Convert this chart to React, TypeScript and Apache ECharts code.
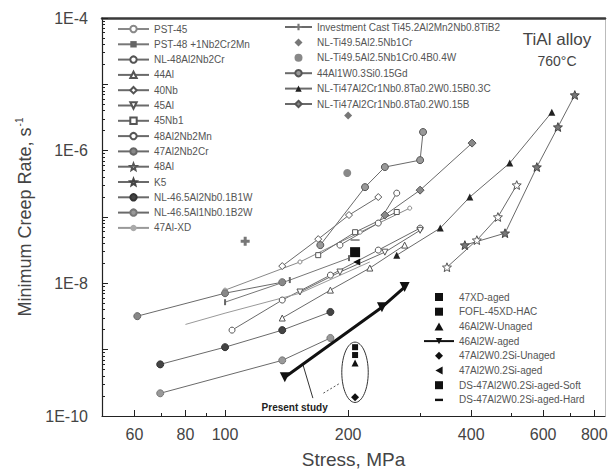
import React, { useEffect, useRef } from "react";
import * as echarts from "echarts";

const FONT = "'Liberation Sans', Arial, Helvetica, sans-serif";

// ---- axis ticks ----
const xTickValues = [60, 80, 100, 200, 400, 600, 800];
const xMinorValues = [50, 70, 90, 300, 500, 700];
const yLabelValues = [1e-10, 1e-8, 1e-6, 1e-4];
const yDecadeExponents = [-10, -9, -8, -7, -6, -5, -4];
const yMinorMantissas = [2, 3, 4, 5, 6, 7, 8, 9];

// ---- literature data: [stress MPa, min creep rate 1/s] ----
const pst45 = [[100, 7.9e-9], [152.5, 2.1e-8], [214, 5.9e-8], [283, 1.36e-7]];
const pst48 = [[100, 5.2e-9], [144, 1.12e-8], [201, 2.4e-8]];
const nl48Al2Nb2Cr = [[104, 1.97e-9], [138, 5.6e-9], [181, 1.33e-8], [237, 3.17e-8], [300, 6.8e-8]];
const al44 = [[138, 3.0e-9], [181, 7.9e-9], [226, 1.7e-8], [275, 3.77e-8]];
const nb40 = [[138, 1.82e-8], [169, 4.64e-8], [201, 1.07e-7], [237, 2.0e-7]];
const al45 = [[152.5, 7.4e-9], [191, 1.48e-8], [246, 2.95e-8], [300, 6.3e-8]];
const nb45 = [[169, 2.66e-8], [208, 5.9e-8], [263, 1.19e-7]];
const al48Nb2Mn = [[191, 3.77e-8], [237, 8.1e-8], [263, 2.29e-7]];
const al47Nb2Cr = [[61, 3.2e-9], [100, 7.1e-9], [138, 1.04e-8]];
const al48 = [[349, 1.75e-8], [413, 4.48e-8], [465, 1.0e-7], [517, 3.03e-7]];
const k5 = [[386, 3.77e-8], [484, 5.7e-8], [579, 5.66e-7], [652, 2.27e-6], [717, 6.9e-6]];
const nl465B1W = [[69.4, 6.0e-10], [100, 1.09e-9], [138, 1.97e-9], [181, 3.7e-9]];
const nl465B2W = [[69.4, 2.2e-10], [138, 6.9e-10], [181, 1.5e-9]];
const misc14 = [[80, 2.4e-9], [100, 3.55e-9], [152.5, 7.1e-9], [226, 2.1e-8]];
const investCast = [[112, 4.3e-8]];
const nlTi495Cr = [[200, 3.4e-6]];
const nlTi495W = [[199, 4.6e-7]];
const al44W = [[171, 3.77e-8], [220, 2.82e-7], [246, 5.66e-7], [300, 7.2e-7], [305, 1.91e-6]];
const nlTi47C = [[263, 2.66e-8], [336, 6.8e-8], [397, 2.0e-7], [497, 6.5e-7], [630, 3.8e-6]];
const nlTi47B = [[246, 1.07e-7], [300, 2.54e-7], [402, 1.3e-6]];

// ---- present study ----
const xdAged = [[208, 1.09e-9]];
const foflXd = [[208, 8.3e-10]];
const w46Unaged = [[208, 6.3e-10]];
const w46Aged = [[140, 3.85e-10], [242, 4.37e-9], [275, 8.8e-9]];
const si47Unaged = [[208, 1.92e-10]];
const si47Aged = [[210, 2.1e-8]];
const dsSoft = [[208, 2.95e-8]];
const dsHard = [[208, 4.5e-8]];

// annotation anchors (data space)
const ellipseBox = [[193, 1.3e-9], [224, 1.6e-10]];
const presentStudyAt = [148, 1.36e-10];
const pointerSolid = [[164, 1.86e-10], [155, 6.0e-10]];
const pointerDashed = [[174, 2.21e-10], [191, 3.12e-10]];

const STAR = "path://M12,1L14.9,8.6L23,9.2L16.8,14.5L18.8,22.5L12,18.1L5.2,22.5L7.2,14.5L1,9.2L9.1,8.6Z";
const CROSS = "path://M4,0H8V4H12V8H8V12H4V8H0V4H4Z";
const BAR = "path://M0,0H10V3H0Z";
// legend icons that keep their aspect
const I_SQUARE = "path://M0,0H10V10H0Z";
const I_TRI = "path://M5,0L10,9H0Z";
const I_TRI_LEFT = "path://M0,5L9,0V10Z";
const I_DIAMOND = "path://M5,0L10,5L5,10L0,5Z";
const I_CIRCLE = "path://M5,0A5,5,0,1,1,5,10A5,5,0,1,1,5,0Z";
const I_BAR = "path://M0,0M10,10M0,3.5H10V6.5H0Z";

type Spec = {
  name: string; data: number[][]; kind: "line" | "scatter";
  symbol: string; size?: number | number[]; fill: string; stroke?: string;
  lineColor?: string; width?: number; rotate?: number; z?: number; icon?: string;
};

const leftSpecs: Spec[] = [
  { name: "PST-45", data: pst45, kind: "line", symbol: "circle", size: 4, fill: "#fff", stroke: "#888", lineColor: "#888" },
  { name: "PST-48 +1Nb2Cr2Mn", data: pst48, kind: "line", symbol: "rect", size: [2, 6], fill: "#666", lineColor: "#777" },
  { name: "NL-48Al2Nb2Cr", data: nl48Al2Nb2Cr, kind: "line", symbol: "circle", size: 6, fill: "#fff", stroke: "#555" },
  { name: "44Al", data: al44, kind: "line", symbol: "triangle", size: 6, fill: "#fff", stroke: "#555" },
  { name: "40Nb", data: nb40, kind: "line", symbol: "diamond", size: 7, fill: "#fff", stroke: "#555" },
  { name: "45Al", data: al45, kind: "line", symbol: "triangle", rotate: 180, size: 6, fill: "#fff", stroke: "#555" },
  { name: "45Nb1", data: nb45, kind: "line", symbol: "rect", size: 5, fill: "#fff", stroke: "#555" },
  { name: "48Al2Nb2Mn", data: al48Nb2Mn, kind: "line", symbol: "circle", size: 6, fill: "#fff", stroke: "#555" },
  { name: "47Al2Nb2Cr", data: al47Nb2Cr, kind: "line", symbol: "circle", size: 7, fill: "#888", stroke: "#666" },
  { name: "48Al", data: al48, kind: "line", symbol: STAR, size: 9, fill: "#fff", stroke: "#555" },
  { name: "K5", data: k5, kind: "line", symbol: STAR, size: 9, fill: "#777", stroke: "#444" },
  { name: "NL-46.5Al2Nb0.1B1W", data: nl465B1W, kind: "line", symbol: "circle", size: 7, fill: "#444", stroke: "#333" },
  { name: "NL-46.5Al1Nb0.1B2W", data: nl465B2W, kind: "line", symbol: "circle", size: 7, fill: "#999", stroke: "#777" },
  { name: "47Al-XD", data: misc14, kind: "line", symbol: "none", fill: "#aaa", lineColor: "#999" },
];

const rightSpecs: Spec[] = [
  { name: "Investment Cast Ti45.2Al2Mn2Nb0.8TiB2", data: investCast, kind: "line", symbol: CROSS, size: 9, fill: "#777" },
  { name: "NL-Ti49.5Al2.5Nb1Cr", data: nlTi495Cr, kind: "scatter", symbol: "diamond", size: 8, fill: "#777", icon: I_DIAMOND },
  { name: "NL-Ti49.5Al2.5Nb1Cr0.4B0.4W", data: nlTi495W, kind: "scatter", symbol: "circle", size: 8, fill: "#888", icon: I_CIRCLE },
  { name: "44Al1W0.3Si0.15Gd", data: al44W, kind: "line", symbol: "circle", size: 7, fill: "#999", stroke: "#555" },
  { name: "NL-Ti47Al2Cr1Nb0.8Ta0.2W0.15B0.3C", data: nlTi47C, kind: "line", symbol: "triangle", size: 7, fill: "#222" },
  { name: "NL-Ti47Al2Cr1Nb0.8Ta0.2W0.15B", data: nlTi47B, kind: "line", symbol: "diamond", size: 8, fill: "#888", stroke: "#555" },
];

const presentSpecs: Spec[] = [
  { name: "47XD-aged", data: xdAged, kind: "scatter", symbol: "rect", size: 6, fill: "#111", z: 5, icon: I_SQUARE },
  { name: "FOFL-45XD-HAC", data: foflXd, kind: "scatter", symbol: "rect", size: 6, fill: "#111", z: 5, icon: I_SQUARE },
  { name: "46Al2W-Unaged", data: w46Unaged, kind: "scatter", symbol: "triangle", size: 7, fill: "#111", z: 5, icon: I_TRI },
  { name: "46Al2W-aged", data: w46Aged, kind: "line", symbol: "triangle", rotate: 180, size: 10, fill: "#111", lineColor: "#111", width: 3, z: 6 },
  { name: "47Al2W0.2Si-Unaged", data: si47Unaged, kind: "scatter", symbol: "diamond", size: 8, fill: "#111", z: 5, icon: I_DIAMOND },
  { name: "47Al2W0.2Si-aged", data: si47Aged, kind: "scatter", symbol: "triangle", rotate: 90, size: 7, fill: "#111", z: 5, icon: I_TRI_LEFT },
  { name: "DS-47Al2W0.2Si-aged-Soft", data: dsSoft, kind: "scatter", symbol: "rect", size: 10, fill: "#111", z: 5, icon: I_SQUARE },
  { name: "DS-47Al2W0.2Si-aged-Hard", data: dsHard, kind: "scatter", symbol: BAR, size: [9, 3], fill: "#111", z: 5, icon: I_BAR },
];

function buildSeries(s: Spec) {
  const common: any = {
    name: s.name,
    data: s.data,
    xAxisIndex: 0,
    yAxisIndex: 0,
    symbol: s.symbol,
    symbolSize: s.size ?? 6,
    symbolRotate: s.rotate ?? 0,
    symbolKeepAspect: true,
    itemStyle: { color: s.fill, borderColor: s.stroke ?? s.fill, borderWidth: s.stroke ? 1 : 0, opacity: 1 },
    z: s.z ?? 2,
    emphasis: { disabled: true },
    silent: true,
  };
  if (s.kind === "line") {
    return {
      ...common,
      type: "line",
      showSymbol: s.symbol !== "none",
      lineStyle: { color: s.lineColor ?? "#6a6a6a", width: s.width ?? 1 },
    };
  }
  return { ...common, type: "scatter" };
}

const allSpecs = [...leftSpecs, ...rightSpecs, ...presentSpecs];
const legendText = { fontSize: 10, color: "#555", fontFamily: FONT };
const legendItems = (specs: Spec[]) =>
  specs.map((s) => (s.icon ? { name: s.name, icon: s.icon, itemStyle: { borderWidth: 0 } } : { name: s.name }));

function yMinorValues() {
  const out: number[] = [];
  for (const e of yDecadeExponents.slice(0, -1)) {
    for (const m of yMinorMantissas) out.push(m * Math.pow(10, e));
  }
  return out;
}

const logX = { type: "log", min: 50, max: 850, logBase: 10 };
const logY = { type: "log", min: 1e-10, max: 1e-4, logBase: 10 };

const option: any = {
  animation: false,
  backgroundColor: "#fff",
  textStyle: { fontFamily: FONT },
  grid: { left: 102, right: 6, top: 18, bottom: 56, containLabel: false, outerBoundsMode: "none" },
  xAxis: [
    {
      ...logX,
      position: "bottom",
      axisLine: { show: true, lineStyle: { color: "#222", width: 1.2 } },
      axisTick: { show: true, inside: true, length: 6, customValues: xTickValues, lineStyle: { color: "#222" } },
      axisLabel: {
        customValues: xTickValues,
        fontSize: 16,
        color: "#444",
        margin: 10,
        fontFamily: FONT,
        formatter: (v: number) => String(Math.round(v)),
      },
      splitLine: { show: false },
      minorTick: { show: false },
      name: "Stress, MPa",
      nameLocation: "middle",
      nameGap: 34,
      nameTextStyle: { fontSize: 19, color: "#444", fontFamily: FONT },
    },
    {
      ...logX,
      position: "bottom",
      axisLine: { show: false },
      axisTick: { show: true, inside: true, length: 3, customValues: xMinorValues, lineStyle: { color: "#222" } },
      axisLabel: { show: false },
      splitLine: { show: false },
    },
    {
      ...logX,
      position: "top",
      axisLine: { show: true, lineStyle: { color: "#3a3a3a", width: 2.5 } },
      axisTick: { show: false },
      axisLabel: { show: false },
      splitLine: { show: false },
    },
  ],
  yAxis: [
    {
      ...logY,
      position: "left",
      axisLine: { show: true, lineStyle: { color: "#222", width: 1.2 } },
      axisTick: {
        show: true,
        inside: true,
        length: 6,
        customValues: yDecadeExponents.map((e) => Math.pow(10, e)),
        lineStyle: { color: "#222" },
      },
      axisLabel: {
        customValues: yLabelValues,
        fontSize: 16,
        color: "#444",
        margin: 14,
        fontFamily: FONT,
        formatter: (v: number) => "1E" + (v > 0 ? Math.round(Math.log10(v)) : Math.round(v)),
      },
      splitLine: { show: false },
      name: "Minimum Creep Rate, s{sup|-1}",
      nameLocation: "middle",
      nameGap: 60,
      nameTextStyle: {
        fontSize: 18,
        color: "#444",
        fontFamily: FONT,
        rich: { sup: { fontSize: 10, color: "#444", verticalAlign: "top", padding: [0, 0, 12, 1] } },
      },
    },
    {
      ...logY,
      position: "left",
      axisLine: { show: false },
      axisTick: { show: true, inside: true, length: 3, customValues: yMinorValues(), lineStyle: { color: "#222" } },
      axisLabel: { show: false },
      splitLine: { show: false },
    },
    {
      ...logY,
      position: "right",
      axisLine: { show: true, lineStyle: { color: "#bbb", width: 1 } },
      axisTick: { show: false },
      axisLabel: { show: false },
      splitLine: { show: false },
    },
  ],
  legend: [
    {
      data: legendItems(leftSpecs),
      orient: "vertical",
      left: 112,
      top: 19,
      itemWidth: 31,
      itemHeight: 8,
      itemGap: 5.3,
      selectedMode: false,
      symbolKeepAspect: true,
      textStyle: legendText,
    },
    {
      data: legendItems(rightSpecs),
      orient: "vertical",
      left: 279,
      top: 17,
      itemWidth: 27,
      itemHeight: 8,
      itemGap: 5.4,
      selectedMode: false,
      symbolKeepAspect: true,
      textStyle: legendText,
    },
    {
      data: legendItems(presentSpecs),
      orient: "vertical",
      left: 418,
      top: 287,
      itemWidth: 30,
      itemHeight: 8,
      itemGap: 4.7,
      selectedMode: false,
      symbolKeepAspect: true,
      textStyle: legendText,
    },
  ],
  series: allSpecs.map(buildSeries),
};

export default function App() {
  const ref = useRef<HTMLDivElement>(null);
  useEffect(() => {
    if (!ref.current) return;
    const chart = echarts.init(ref.current, null, { renderer: "svg" });
    chart.setOption(option);
    const seriesIdx = allSpecs.findIndex((s) => s.name === "46Al2W-aged");
    const px = (p: number[]) => chart.convertToPixel({ seriesIndex: seriesIdx }, p) as number[];
    const e0 = px(ellipseBox[0]);
    const e1 = px(ellipseBox[1]);
    const t = px(presentStudyAt);
    const s0 = px(pointerSolid[0]);
    const s1 = px(pointerSolid[1]);
    const d0 = px(pointerDashed[0]);
    const d1 = px(pointerDashed[1]);
    chart.setOption({
      graphic: [
        {
          type: "ellipse",
          shape: { cx: (e0[0] + e1[0]) / 2, cy: (e0[1] + e1[1]) / 2, rx: Math.abs(e1[0] - e0[0]) / 2, ry: Math.abs(e1[1] - e0[1]) / 2 },
          style: { fill: "none", stroke: "#333", lineWidth: 1 },
          silent: true,
          z: 10,
        },
        {
          type: "line",
          shape: { x1: s0[0], y1: s0[1], x2: s1[0], y2: s1[1] },
          style: { stroke: "#333", lineWidth: 1 },
          silent: true,
        },
        {
          type: "line",
          shape: { x1: d0[0], y1: d0[1], x2: d1[0], y2: d1[1] },
          style: { stroke: "#555", lineWidth: 1, lineDash: [2, 2] },
          silent: true,
        },
        {
          type: "text",
          x: t[0],
          y: t[1],
          style: { text: "Present study", font: `bold 10px ${FONT}`, fill: "#222", align: "center", verticalAlign: "middle" },
          silent: true,
        },
        {
          type: "text",
          x: 557,
          y: 39,
          style: { text: "TiAl alloy", font: `17px ${FONT}`, fill: "#444", align: "center", verticalAlign: "middle" },
          silent: true,
        },
        {
          type: "text",
          x: 557,
          y: 61,
          style: { text: "760\u00B0C", font: `14px ${FONT}`, fill: "#444", align: "center", verticalAlign: "middle" },
          silent: true,
        },
      ],
    });
    return () => chart.dispose();
  }, []);
  return <div ref={ref} style={{ position: "fixed", left: 0, top: 0, width: 611, height: 472 }} />;
}
